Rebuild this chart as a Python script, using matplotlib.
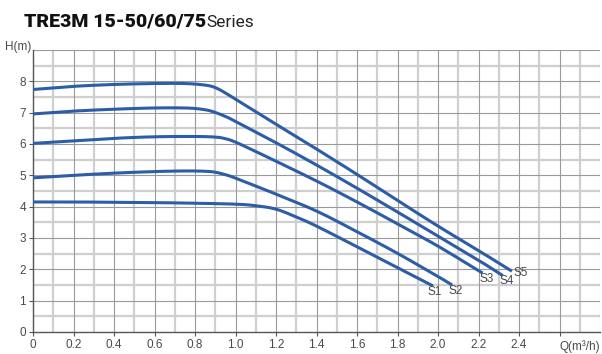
import matplotlib.pyplot as plt
import numpy as np

# débit Q (m3/h) et hauteur H (m)
q_s5 = [0, 0.2, 0.4, 0.6, 0.75, 0.85, 0.9, 0.95, 1.0, 1.2, 1.4, 1.6, 1.8, 2.0, 2.2, 2.365]
h_s5 = [7.74, 7.84, 7.90, 7.93, 7.93, 7.88, 7.80, 7.63, 7.43, 6.63, 5.84, 5.03, 4.20, 3.38, 2.60, 1.94]

q_s4 = [0, 0.2, 0.4, 0.6, 0.75, 0.82, 0.88, 0.95, 1.0, 1.2, 1.4, 1.6, 1.8, 2.0, 2.2, 2.32]
h_s4 = [6.96, 7.05, 7.11, 7.15, 7.15, 7.12, 7.05, 6.88, 6.72, 6.04, 5.33, 4.59, 3.83, 3.06, 2.29, 1.80]

q_s3 = [0, 0.2, 0.4, 0.6, 0.8, 0.9, 0.95, 1.0, 1.1, 1.2, 1.4, 1.6, 1.8, 2.0, 2.22]
h_s3 = [6.02, 6.10, 6.18, 6.23, 6.24, 6.22, 6.17, 6.06, 5.76, 5.45, 4.82, 4.15, 3.45, 2.74, 1.88]

q_s2 = [0, 0.2, 0.4, 0.6, 0.75, 0.85, 0.9, 0.95, 1.0, 1.2, 1.4, 1.6, 1.8, 2.0, 2.07]
h_s2 = [4.92, 5.00, 5.07, 5.12, 5.14, 5.13, 5.10, 5.02, 4.91, 4.40, 3.86, 3.20, 2.51, 1.77, 1.50]

q_s1 = [0, 0.2, 0.4, 0.6, 0.8, 1.0, 1.1, 1.2, 1.3, 1.4, 1.6, 1.8, 1.975]
h_s1 = [4.15, 4.15, 4.14, 4.13, 4.11, 4.08, 4.03, 3.92, 3.67, 3.38, 2.72, 2.05, 1.47]

series = [("S1", q_s1, h_s1), ("S2", q_s2, h_s2), ("S3", q_s3, h_s3),
          ("S4", q_s4, h_s4), ("S5", q_s5, h_s5)]

# position des étiquettes (Q, H)
label_pos = {"S1": (1.985, 1.28), "S2": (2.085, 1.31), "S3": (2.24, 1.69),
             "S4": (2.34, 1.63), "S5": (2.41, 1.89)}

x_ticks = [0, 0.2, 0.4, 0.6, 0.8, 1.0, 1.2, 1.4, 1.6, 1.8, 2.0, 2.2, 2.4, 2.6]
x_labels = ["0", "0.2", "0.4", "0.6", "0.8", "1.0", "1.2", "1.4", "1.6", "1.8", "2.0", "2.2", "2.4", ""]
y_ticks = [0, 1, 2, 3, 4, 5, 6, 7, 8]

LINE = "#2d5da6"
TXT = "#4a4a4a"


def lisser(x, y, n=12):
    """Catmull-Rom entre les points lus (tracé seulement)."""
    x = np.asarray(x, float)
    y = np.asarray(y, float)
    px = np.concatenate([[2 * x[0] - x[1]], x, [2 * x[-1] - x[-2]]])
    py = np.concatenate([[2 * y[0] - y[1]], y, [2 * y[-1] - y[-2]]])
    t = np.linspace(0, 1, n, endpoint=False)
    ox, oy = [], []
    for i in range(1, len(px) - 2):
        for arr, out in ((px, ox), (py, oy)):
            p0, p1, p2, p3 = arr[i - 1], arr[i], arr[i + 1], arr[i + 2]
            out.extend(0.5 * (2 * p1 + (-p0 + p2) * t
                              + (2 * p0 - 5 * p1 + 4 * p2 - p3) * t ** 2
                              + (-p0 + 3 * p1 - 3 * p2 + p3) * t ** 3))
    ox.append(x[-1])
    oy.append(y[-1])
    return ox, oy


plt.rcParams["font.family"] = ["Liberation Sans", "DejaVu Sans"]

fig = plt.figure(figsize=(6.02, 3.54), dpi=100)
ax = fig.add_axes([33 / 602, 22 / 354, 567 / 602, 282 / 354])
ax.set_xlim(0, 2.8)
ax.set_ylim(0, 9)

# grille : fines foncées sur les majeures, claires épaisses sur les mineures
for i in range(1, 29):
    x = i * 0.1
    if i % 2 == 0:
        ax.axvline(x, color="#9a9a9a", lw=0.8, zorder=1)
    else:
        ax.axvline(x, color="#cfcfcf", lw=1.6, zorder=0.9)
for j in range(1, 19):
    y = j * 0.5
    if j % 2 == 0:
        ax.axhline(y, color="#9a9a9a", lw=0.8, zorder=1)
    else:
        ax.axhline(y, color="#cfcfcf", lw=1.6, zorder=0.9)

for name, q, h in series:
    sx, sy = lisser(q, h)
    ax.plot(sx, sy, color=LINE, lw=2.2, solid_capstyle="butt", zorder=3)
    lx, ly = label_pos[name]
    ax.text(lx, ly, name, color=TXT, fontsize=8.5, ha="center", va="center", zorder=4)

ax.set_xticks(x_ticks)
ax.set_xticklabels(x_labels)
ax.set_yticks(y_ticks)
ax.tick_params(axis="both", colors="#555555", labelcolor=TXT, labelsize=8.5,
               length=3, width=0.8, direction="out")
ax.tick_params(axis="x", pad=2)
ax.tick_params(axis="y", pad=2)
for s in ["top", "right"]:
    ax.spines[s].set_visible(False)
for s in ["left", "bottom"]:
    ax.spines[s].set_color("#555555")
    ax.spines[s].set_linewidth(1.0)

fig.text(31 / 602, 1 - 47 / 354, "H(m)", color=TXT, fontsize=8.5, ha="right", va="center")
fig.text(600 / 602, 1 - 347 / 354, "Q(m³/h)", color=TXT, fontsize=8.5, ha="right", va="center")

# titre : partie grasse + "Series"
t1 = fig.text(24 / 602, 1 - 27 / 354, "TRE3M 15-50/60/75", color="#111111",
              fontsize=14, fontweight="heavy", family=["Roboto", "DejaVu Sans"],
              ha="left", va="baseline")
fig.canvas.draw()
bb = t1.get_window_extent()
fig.text(bb.x1 / 602, 1 - 27 / 354, "Series", color="#222222", fontsize=12.5,
         fontweight="normal", family=["Roboto", "DejaVu Sans"], ha="left", va="baseline")

fig.savefig("out.png", dpi=100)
